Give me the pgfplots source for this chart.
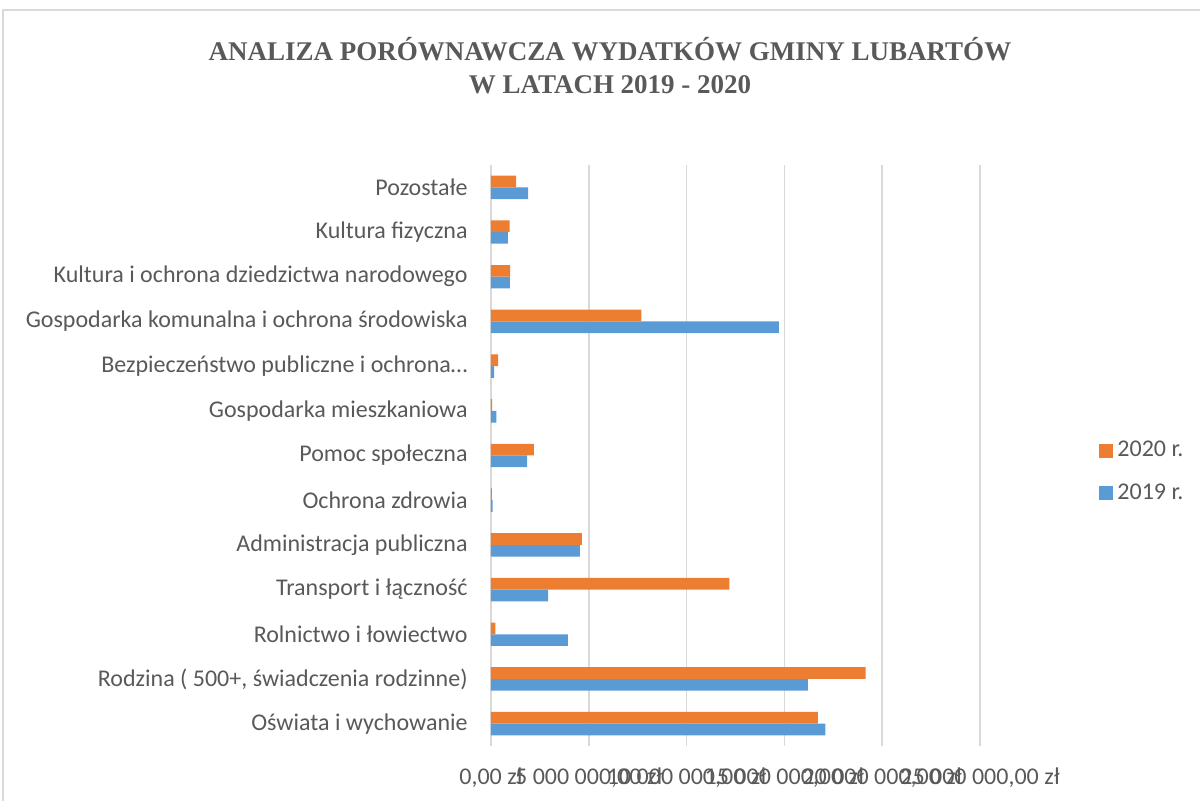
\documentclass[border=0pt]{standalone}
\usepackage{pgfplots}
\pgfplotsset{compat=1.18}
\usepackage{fontspec}
\setmainfont{Carlito}
\newfontfamily\titlefont{Liberation Serif}
\definecolor{c2019}{HTML}{5B9BD5}
\definecolor{c2020}{HTML}{ED7D31}
\definecolor{gridc}{HTML}{D9D9D9}
\definecolor{txt}{HTML}{595959}
\begin{document}
\begin{tikzpicture}
\path[use as bounding box] (0pt,0pt) rectangle (600pt,400.5pt);
\draw[gridc, line width=0.75pt] (1.5pt,-10pt) rectangle (610pt,395.5pt);
\node[align=center, text=txt, font=\titlefont\bfseries\fontsize{13.5}{16.5}\selectfont] at (305pt,367.8pt)
  {ANALIZA PORÓWNAWCZA WYDATKÓW GMINY LUBARTÓW\\W LATACH 2019 - 2020};
\begin{axis}[
  at={(245.5pt,27.5pt)}, anchor=south west,
  scale only axis, width=244.5pt, height=290.5pt,
  xmin=0, xmax=25000000, ymin=-0.5, ymax=12.5,
  scaled x ticks=false,
  xtick={0,5000000,10000000,15000000,20000000,25000000},
  xticklabels={{0,00 zł},{5 000 000,00 zł},{10 000 000,00 zł},{15 000 000,00 zł},{20 000 000,00 zł},{25 000 000,00 zł}},
  ytick={0,1,2,3,4,5,6,7,8,9,10,11,12},
  yticklabels={{Oświata i wychowanie},{Rodzina ( 500+, świadczenia rodzinne)},{Rolnictwo i łowiectwo},{Transport i łączność},{Administracja publiczna},{Ochrona zdrowia},{Pomoc społeczna},{Gospodarka mieszkaniowa},{Bezpieczeństwo publiczne i ochrona…},{Gospodarka komunalna i ochrona środowiska},{Kultura i ochrona dziedzictwa narodowego},{Kultura fizyczna},{Pozostałe}},
  axis line style={draw=none},
  major tick length=0pt,
  xmajorgrids, grid style={gridc, line width=0.75pt},
  ymajorgrids=false,
  tick label style={font=\fontsize{12}{13.5}\selectfont, text=txt},
  yticklabel style={anchor=east, inner sep=0pt, xshift=-11.5pt},
  xticklabel style={anchor=center, inner sep=0pt, yshift=-16pt},
  xbar, bar width=0.262,
  reverse legend,
  legend style={at={(1.2434,0.4716)}, anchor=west, draw=none, fill=none,
    font=\fontsize{12}{13.5}\selectfont, text=txt, row sep=8pt, inner sep=0pt},
  legend cell align=left,
  legend image code/.code={\fill[#1] (0pt,-3.5pt) rectangle (7pt,3.5pt);},
]
\addplot[fill=c2019, draw=none, bar shift=-0.131] coordinates {
(17100000,0) (16200000,1) (3930000,2) (2920000,3) (4540000,4) (80000,5) (1850000,6) (270000,7) (160000,8) (14720000,9) (960000,10) (860000,11) (1900000,12)};
\addlegendentry{2019 r.}
\addplot[fill=c2020, draw=none, bar shift=0.131] coordinates {
(16710000,0) (19150000,1) (230000,2) (12190000,3) (4640000,4) (40000,5) (2190000,6) (60000,7) (370000,8) (7690000,9) (980000,10) (950000,11) (1290000,12)};
\addlegendentry{2020 r.}
\end{axis}
\end{tikzpicture}
\end{document}
